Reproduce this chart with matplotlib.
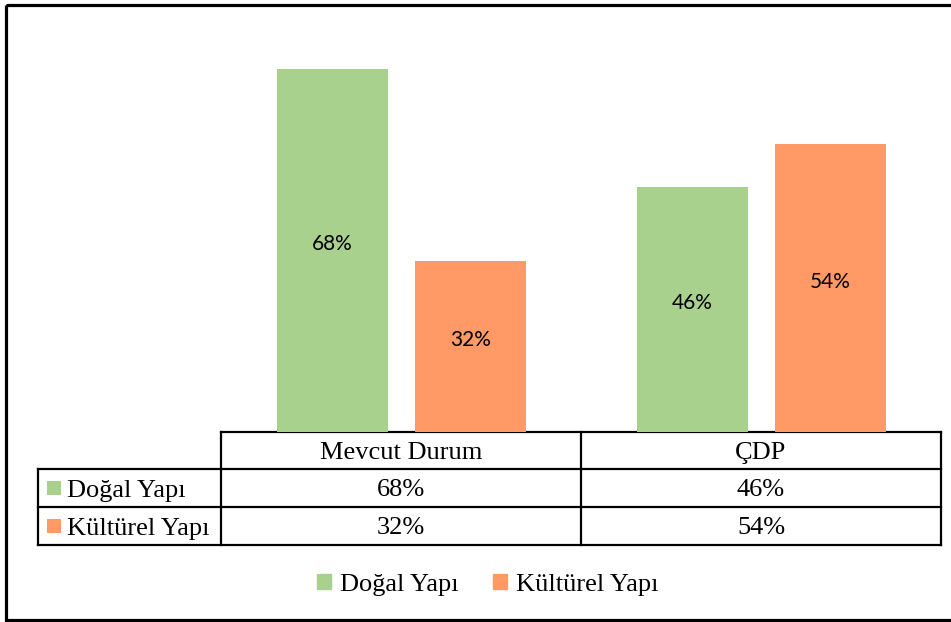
import matplotlib.pyplot as plt
from matplotlib.patches import Rectangle, Patch

# values
categories = ['Mevcut Durum', 'ÇDP']
series = ['Doğal Yapı', 'Kültürel Yapı']
dogal = [0.68, 0.46]
kulturel = [0.32, 0.54]
colors = ['#A9D18E', '#FF9966']

W, H = 951, 622
fig = plt.figure(figsize=(W / 100, H / 100), dpi=100)

# overlay in pixel units for frame, table and legend
ov = fig.add_axes([0, 0, 1, 1])
ov.set_xlim(0, W)
ov.set_ylim(H, 0)
ov.axis('off')

# plot area (pixels)
px_l, px_r, px_t, px_b = 221, 941, 5.4, 432
ax = fig.add_axes([px_l / W, 1 - px_b / H, (px_r - px_l) / W, (px_b - px_t) / H])
ax.set_xlim(-0.5, len(categories) - 0.5)
ax.set_ylim(0, 0.8)
ax.axis('off')

x = range(len(categories))
bw = 111 / 360
off = 0.19
b1 = ax.bar([i - off for i in x], dogal, width=bw, color=colors[0])
b2 = ax.bar([i + off + 0.003 for i in x], kulturel, width=bw, color=colors[1])
for bars, vals in [(b1, dogal), (b2, kulturel)]:
    for b, v in zip(bars, vals):
        ax.text(b.get_x() + b.get_width() / 2, v / 2 + 0.012, f'{v:.0%}',
                ha='center', va='center', fontsize=15, family='Lato')

# outer frame
ov.add_patch(Rectangle((6, 4.5), W + 20, 615, fill=False, lw=2.3, ec='black'))

# data table
lw = 1.6
rows_y = [432, 469, 507, 545]
col_x = [221, 581, 941]
lab_x = 38
ov.plot([col_x[0], col_x[-1]], [rows_y[0]] * 2, color='black', lw=lw)
for yy in rows_y[1:]:
    ov.plot([lab_x, col_x[-1]], [yy] * 2, color='black', lw=lw)
for xx in col_x:
    ov.plot([xx, xx], [rows_y[0], rows_y[-1]], color='black', lw=lw)
ov.plot([lab_x, lab_x], [rows_y[1], rows_y[-1]], color='black', lw=lw)

serif = 'Liberation Serif'
fs = 19
dy = 2.5
for j, cat in enumerate(categories):
    cx = (col_x[j] + col_x[j + 1]) / 2
    ov.text(cx, (rows_y[0] + rows_y[1]) / 2 + dy, cat, ha='center', va='center',
            fontsize=fs, family=serif)
    for r, vals in enumerate([dogal, kulturel]):
        ov.text(cx, (rows_y[r + 1] + rows_y[r + 2]) / 2 + dy, f'{vals[j]:.0%}',
                ha='center', va='center', fontsize=fs, family=serif)

for r, name in enumerate(series):
    cy = (rows_y[r + 1] + rows_y[r + 2]) / 2
    ov.add_patch(Rectangle((47, cy - 7), 14, 14, color=colors[r], lw=0))
    ov.text(67, cy + dy, name, ha='left', va='center', fontsize=fs, family=serif)

# legend
handles = [Patch(color=c, label=s) for c, s in zip(colors, series)]
fig.legend(handles=handles, loc='center', bbox_to_anchor=(488 / W, 1 - 585 / H),
           ncol=2, frameon=False, prop={'family': serif, 'size': fs},
           handlelength=0.52, handleheight=0.52, handletextpad=0.35,
           columnspacing=1.3)

fig.savefig('out.png', dpi=100)
